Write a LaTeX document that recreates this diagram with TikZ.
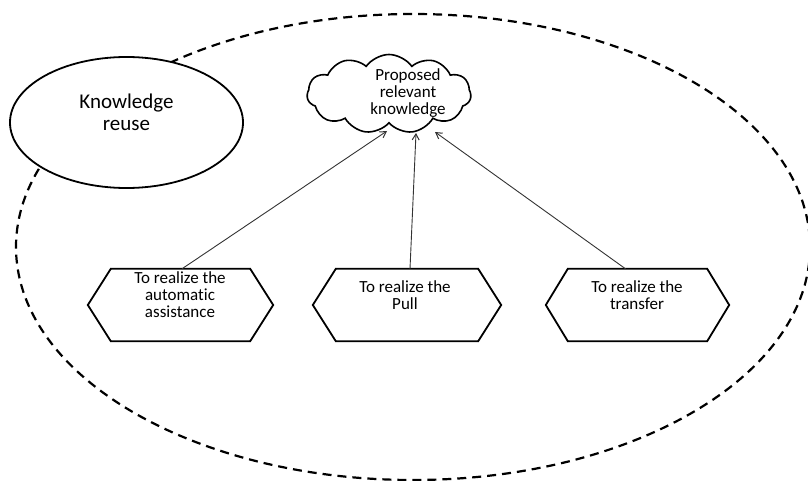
\documentclass[tikz,border=0pt]{standalone}
\usepackage{fontspec}
\setmainfont{Carlito}[Ligatures={NoCommon}]
\usetikzlibrary{shapes.geometric,shapes.symbols,arrows.meta,calc}

\tikzset{
  scopeline/.style={draw=black, line width=2.2pt, dash pattern=on 9pt off 6pt},
  topicbox/.style={ellipse, draw=black, line width=1.8pt, fill=white,
    minimum width=233pt, minimum height=131pt, inner sep=0pt},
  ideacloud/.style={cloud, cloud puffs=11, cloud puff arc=110, aspect=2.1,
    draw=black, line width=1.6pt, fill=white,
    minimum width=164pt, minimum height=79pt, inner sep=0pt},
  hexslot/.style={rectangle, draw=none, minimum height=72pt, inner sep=0pt},
  hexline/.style={draw=black, line width=1.8pt, line join=miter},
  smalltext/.style={align=center, inner sep=0pt, text=black,
    font=\fontsize{17}{17}\selectfont},
  bigtext/.style={align=center, inner sep=0pt, text=black,
    font=\fontsize{21}{22}\selectfont},
  linkarrow/.style={draw=black!80, line width=0.9pt,
    -{Straight Barb[length=6pt,width=7pt,line width=1pt]}}
}

% hexagon frame around a named slot, pointed at left and right
\newcommand{\hexframe}[2]{%
  \draw[hexline] (#1.west) -- ($(#1.north west)+(#2,0)$)
    -- ($(#1.north east)+(-#2,0)$) -- (#1.east)
    -- ($(#1.south east)+(-#2,0)$) -- ($(#1.south west)+(#2,0)$) -- cycle;}

\begin{document}
\begin{tikzpicture}[x=1pt,y=-1pt]
  \useasboundingbox (0,0) rectangle (808,481);

  % dashed scope boundary
  \draw[scopeline] (413,247) ellipse [x radius=397, y radius=233];

  % topic ellipse
  \node[topicbox] (kr) at (126.5,122.5) {};
  \node[bigtext] (krtxt) at (126.5,112) {Knowledge\\reuse};

  % proposed knowledge cloud
  \node[ideacloud] (cloud) at (389,94) {};
  \node[smalltext] (cloudtxt) at (408,93.5) {Proposed\\relevant\\knowledge};

  % three realisation modes
  \node[hexslot, minimum width=185pt] (h1) at (180.5,305) {};
  \node[hexslot, minimum width=188pt] (h2) at (407,305) {};
  \node[hexslot, minimum width=183pt] (h3) at (637.5,305) {};
  \hexframe{h1}{23}
  \hexframe{h2}{23}
  \hexframe{h3}{22}
  \node[smalltext] (t1) at (180,295) {To realize the\\automatic\\assistance};
  \node[smalltext] (t2) at (405,295) {To realize the\\Pull};
  \node[smalltext] (t3) at (637,295) {To realize the\\transfer};

  % arrow targets on the lower rim of the cloud
  \coordinate (c1) at (387,131);
  \coordinate (c2) at (416,133);
  \coordinate (c3) at (435,132);

  \draw[linkarrow] ($(h1.north)+(1.5,0)$) -- (c1);
  \draw[linkarrow] ($(h2.north)+(3,0)$) -- (c2);
  \draw[linkarrow] ($(h3.north)+(-12,0)$) -- (c3);
\end{tikzpicture}
\end{document}
